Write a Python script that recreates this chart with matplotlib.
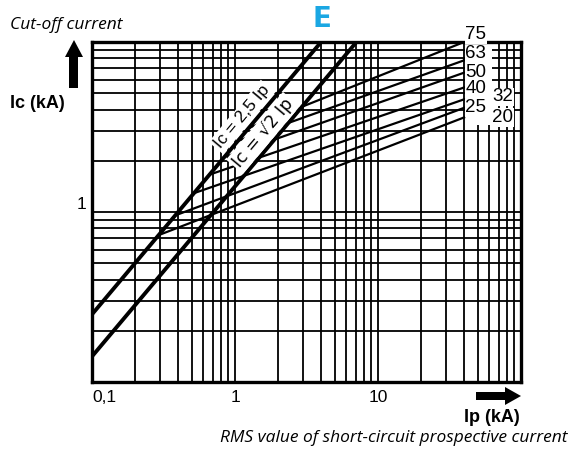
import numpy as np
import matplotlib.pyplot as plt
from matplotlib.patches import Polygon, Rectangle
from matplotlib.ticker import NullFormatter

# axis ticks
x_ticks = [0.1, 1, 10]
x_tick_labels = ["0,1", "1", "10"]
y_ticks = [1]
y_tick_labels = ["1"]

# peak current lines (Ip, Ic)
asym_ip = [0.1, 4.0]
asym_ic = [0.25, 10.0]
sym_ip = [0.1, 7.07]
sym_ic = [0.1414, 10.0]

# fuse cut-off lines: start on the 2.5 Ip line, end at Ip = 40 kA
fuse_ratings = ["75", "63", "50", "40", "32", "25", "20"]
fuse_ip_start = [1.25, 1.05, 0.84, 0.665, 0.516, 0.382, 0.291]
fuse_ic_start = [3.12, 2.62, 2.10, 1.66, 1.29, 0.955, 0.73]
fuse_ip_end = [40, 40, 40, 40, 40, 40, 40]
fuse_ic_end = [10.0, 7.8, 6.6, 5.4, 4.6, 4.1, 3.6]

W, H = 578, 455
fig = plt.figure(figsize=(W / 100, H / 100), dpi=100)
ax = fig.add_axes([92 / W, 1 - 382 / H, (521 - 92) / W, (382 - 42) / H])
ax.set_xscale("log")
ax.set_yscale("log")
ax.set_xlim(0.1, 100)
ax.set_ylim(0.1, 10)

ax.grid(which="both", color="black", lw=1.3)
ax.set_axisbelow(True)
for s in ax.spines.values():
    s.set_linewidth(2.4)
ax.tick_params(which="both", length=0)
ax.xaxis.set_minor_formatter(NullFormatter())
ax.yaxis.set_minor_formatter(NullFormatter())
ax.set_xticks(x_ticks, x_tick_labels, fontsize=12.5, family="Liberation Sans")
ax.set_yticks(y_ticks, y_tick_labels, fontsize=12.5, family="Liberation Sans")
ax.tick_params(axis="x", pad=6)
ax.tick_params(axis="y", pad=4)
ax.get_xticklabels()[0].set_ha("left")
for lab in ax.get_yticklabels():
    lab.set_va("bottom")

# fuse lines
for i in range(len(fuse_ratings)):
    ax.plot([fuse_ip_start[i], fuse_ip_end[i]], [fuse_ic_start[i], fuse_ic_end[i]],
            color="black", lw=1.6, zorder=3)

ax.plot(asym_ip, asym_ic, color="black", lw=2.8, zorder=4)
ax.plot(sym_ip, sym_ic, color="black", lw=2.8, zorder=4)

box = dict(facecolor="white", edgecolor="none", pad=1.5)
ax.text(1.12, 3.62, "Ic = 2,5 Ip", rotation=50, ha="center", va="center",
        rotation_mode="anchor", fontsize=12.5, family="Liberation Sans", bbox=box, zorder=5)
ax.text(1.57, 2.92, "Ic = √2 Ip", rotation=50, ha="center", va="center",
        rotation_mode="anchor", fontsize=12.5, family="DejaVu Sans", bbox=box, zorder=5)

# white area behind the rating labels
ax.add_patch(Rectangle((40.5, 3.25), 22, 7.0, facecolor="white", edgecolor="none",
                       zorder=2, clip_on=False))

lab_pos = {"75": (40.8, 11.0), "63": (40.8, 8.5), "50": (40.8, 6.6), "40": (40.8, 5.3),
           "32": (63, 4.75), "25": (40.8, 4.1), "20": (63, 3.6)}
for r in fuse_ratings:
    x, y = lab_pos[r]
    ax.text(x, y, r, ha="left", va="center", fontsize=13.5, family="Liberation Sans",
            bbox=dict(facecolor="white", edgecolor="none", pad=0.5), zorder=6, clip_on=False)

# arrows
def arrow(pts):
    fig.patches.append(Polygon([(x / W, 1 - y / H) for x, y in pts], closed=True,
                               facecolor="black", edgecolor="none",
                               transform=fig.transFigure, figure=fig))

arrow([(69, 88), (69, 57), (65, 57), (74, 40), (83, 57), (78, 57), (78, 88)])
arrow([(476, 392), (505, 392), (505, 387), (521, 396), (505, 405), (505, 400), (476, 400)])

fig.text(10 / W, 1 - 25 / H, "Cut-off current", fontsize=12.5, style="italic",
         family="Open Sans", va="center", ha="left")
fig.text(10 / W, 1 - 103 / H, "Ic (kA)", fontsize=13, weight="bold",
         family="Liberation Sans", va="center", ha="left")
fig.text(492 / W, 1 - 418 / H, "Ip (kA)", fontsize=13, weight="bold",
         family="Liberation Sans", va="center", ha="center")
fig.text(568 / W, 1 - 438 / H, "RMS value of short-circuit prospective current", fontsize=12.5,
         style="italic", family="Open Sans", va="center", ha="right")
fig.text(322 / W, 1 - 19 / H, "E", fontsize=20, weight="bold", color="#1aa7e3",
         family="DejaVu Sans", va="center", ha="center")

fig.savefig("out.png", dpi=100)
